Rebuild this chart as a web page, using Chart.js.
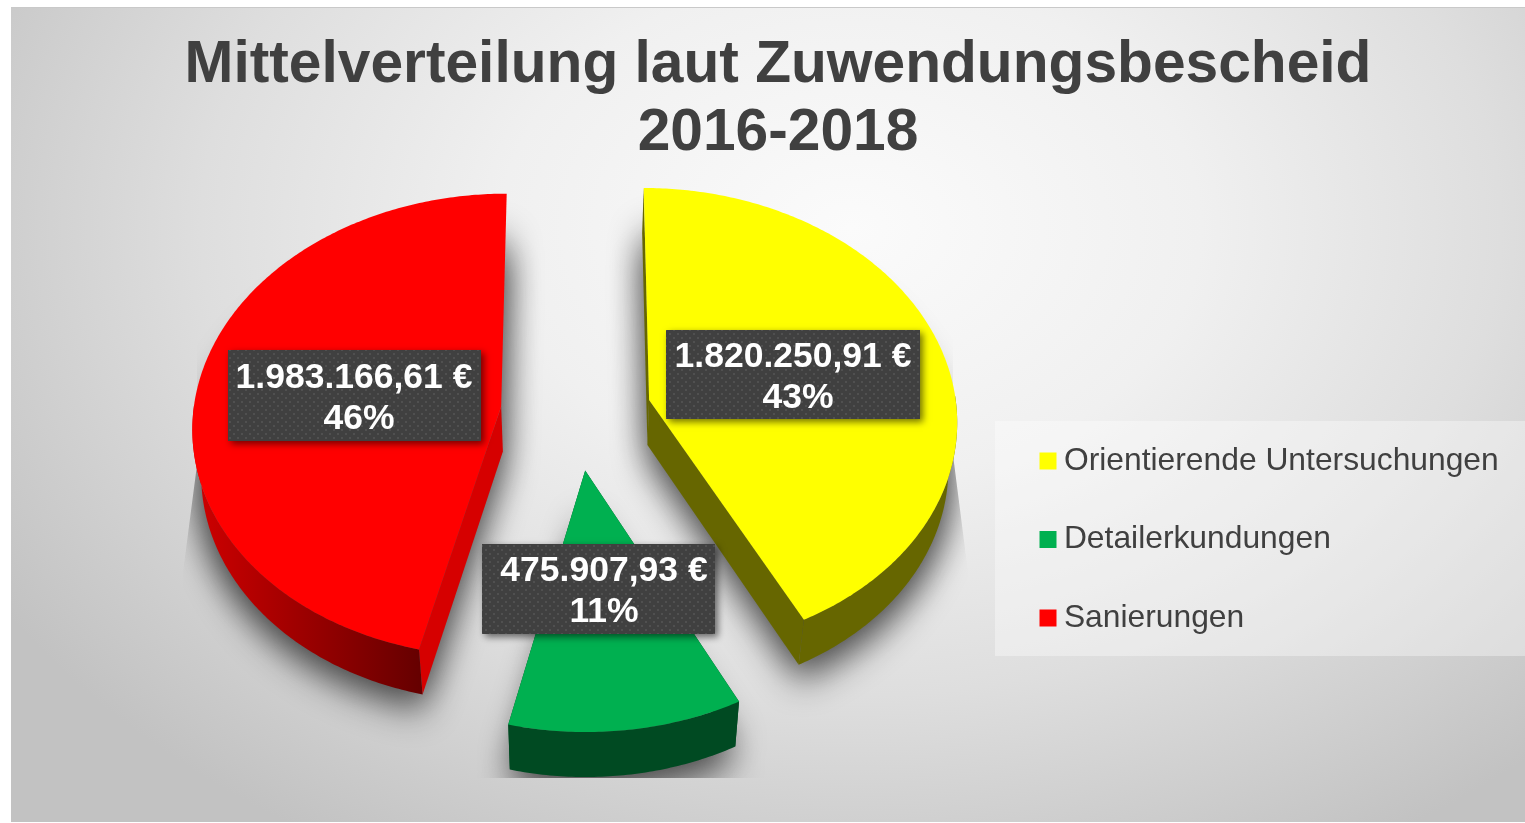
<!DOCTYPE html>
<html><head><meta charset="utf-8">
<style>
html,body{margin:0;padding:0;background:#fff;overflow:hidden}
#panel{position:absolute;left:11px;top:7px;width:1514px;height:815px;border-top:1px solid #c9c9c9;box-sizing:border-box;
background:radial-gradient(ellipse 1000px 720px at 840px 220px,#fbfbfb 0%,#f0f0f0 35%,#dedede 65%,#c2c2c2 100%)}
canvas{position:absolute;left:0;top:0}
</style>
<script src="https://cdn.jsdelivr.net/npm/chart.js@4"></script>
</head><body>
<div id="panel"></div>
<canvas id="c" width="1525" height="823"></canvas>
<script>
const categories = ['Orientierende Untersuchungen', 'Detailerkundungen', 'Sanierungen'];
const amounts = [1820250.91, 475907.93, 1983166.61];
const faceColors = ['#ffff00', '#00b050', '#ff0000'];
const edgeColors = ['#666600', '#004a22', '#d60000'];
const rimStops = [['#666600', '#666600'], ['#004a22', '#004a22'], ['#d00000', '#660000']];
const titleLines = ['Mittelverteilung laut Zuwendungsbescheid', '2016-2018'];

const TILT = 0.75, PERSPECTIVE = 0.08 / 308, DEPTH = 45, NARROW = 0.023;

function ptAt(arc, ang, r, h) {
  const mid = (arc.startAngle + arc.endAngle) / 2, off = arc.options.offset;
  const u = Math.cos(ang) * r + Math.cos(mid) * off;
  const v = Math.sin(ang) * r + Math.sin(mid) * off;
  const w = 1 - PERSPECTIVE * v;
  const x = u / w, y = TILT * v / w;
  return [arc.x + x * (1 - NARROW * h), arc.y + y + DEPTH * h];
}
function rimAngles(arc) {
  const out = [], n = Math.ceil((arc.endAngle - arc.startAngle) * 90);
  for (let i = 0; i <= n; i++) out.push(arc.startAngle + (arc.endAngle - arc.startAngle) * i / n);
  return out;
}
function poly(ctx, pts) {
  ctx.beginPath();
  pts.forEach((p, i) => i ? ctx.lineTo(p[0], p[1]) : ctx.moveTo(p[0], p[1]));
  ctx.closePath();
}
class Pie3DArc extends Chart.ArcElement {
  static id = 'arc3d';
  outline(h) { return [ptAt(this, 0, 0, h), ...rimAngles(this).map(a => ptAt(this, a, this.outerRadius, h))]; }
  drawShadow(ctx) {
    ctx.save();
    ctx.shadowColor = 'rgba(0,0,0,0.48)';
    ctx.shadowBlur = 34;
    ctx.shadowOffsetX = 4000;
    ctx.shadowOffsetY = 20;
    ctx.fillStyle = '#000';
    ctx.translate(-4000, 0);
    for (const h of [0.5, 1]) { poly(ctx, this.outline(h)); ctx.fill(); }
    ctx.restore();
  }
  draw(ctx) {
    const idx = this.$context.index, R = this.outerRadius;
    const apexT = ptAt(this, 0, 0, 0), apexB = ptAt(this, 0, 0, 1);
    const angles = rimAngles(this);
    const leftOfCentre = Math.cos((this.startAngle + this.endAngle) / 2) < 0;
    ctx.save();
    // flat cut faces; the far cut of a slice left of centre faces away
    ctx.fillStyle = edgeColors[idx];
    for (const a of leftOfCentre ? [angles[0]] : [angles[0], angles[angles.length - 1]]) {
      poly(ctx, [apexT, ptAt(this, a, R, 0), ptAt(this, a, R, 1), apexB]); ctx.fill();
    }
    // curved rim: only the part turned to the viewer
    const front = angles.filter(a => Math.sin(a) > -0.02);
    if (front.length > 1) {
      const topEdge = front.map(a => ptAt(this, a, R, 0));
      const botEdge = front.map(a => ptAt(this, a, R, 1)).reverse();
      const xs = topEdge.map(p => p[0]);
      const g = ctx.createLinearGradient(Math.min(...xs), 0, Math.max(...xs), 0);
      g.addColorStop(0, rimStops[idx][0]); g.addColorStop(1, rimStops[idx][1]);
      ctx.fillStyle = g;
      poly(ctx, [...topEdge, ...botEdge]); ctx.fill();
    }
    // top face
    ctx.fillStyle = this.options.backgroundColor;
    poly(ctx, this.outline(0)); ctx.fill();
    ctx.restore();
  }
}
Chart.register(Pie3DArc);
Chart.defaults.datasets.pie.dataElementType = 'arc3d';

function dotPattern(ctx) {
  const c = document.createElement('canvas'); c.width = c.height = 8;
  const p = c.getContext('2d');
  p.fillStyle = '#404040'; p.fillRect(0, 0, 8, 8);
  p.fillStyle = '#505050';
  p.fillRect(1, 1, 2, 2); p.fillRect(5, 5, 2, 2);
  return ctx.createPattern(c, 'repeat');
}
const fmtAmount = v => v.toLocaleString('de-DE', {minimumFractionDigits: 2, maximumFractionDigits: 2}) + ' €';
const labelBoxes = [
  {l: 666, t: 330, r: 920, b: 419, tx: 793, ty: 357, px: 5},
  {l: 482, t: 544, r: 715, b: 634, tx: 604, ty: 571, px: 0},
  {l: 228, t: 350, r: 481, b: 441, tx: 354, ty: 378, px: 5}
];
const pie3d = {
  id: 'pie3d',
  beforeDraw(chart) {
    const ctx = chart.ctx;
    ctx.save();
    ctx.fillStyle = 'rgba(255,255,255,0.36)';
    ctx.fillRect(995, 421, 530, 235);
    ctx.restore();
  },
  afterLayout(chart) {
    const lg = chart.legend, pad = lg.options.labels.padding;
    lg.left = 1048 - pad; lg.right = 1525; lg.top = 445 - pad; lg.bottom = 823;
    chart.titleBlock.left = 31; chart.titleBlock.right = 1525;
  },
  beforeDatasetsDraw(chart) {
    const ctx = chart.ctx;
    ctx.save();
    poly(ctx, [[197,0],[197,465],[183,572],[183,778],[968,778],[968,572],[953,455],[953,0]]);
    ctx.clip();
    chart.getDatasetMeta(0).data.forEach(a => a.drawShadow(ctx));
    ctx.restore();
  },
  afterDatasetsDraw(chart) {
    const ctx = chart.ctx, total = amounts.reduce((a, b) => a + b, 0);
    const pat = dotPattern(ctx);
    amounts.forEach((v, i) => {
      const b = labelBoxes[i];
      ctx.save();
      ctx.shadowColor = 'rgba(0,0,0,0.55)'; ctx.shadowBlur = 7; ctx.shadowOffsetX = 3; ctx.shadowOffsetY = 3;
      ctx.fillStyle = '#404040';
      ctx.fillRect(b.l, b.t, b.r - b.l, b.b - b.t);
      ctx.restore();
      ctx.save();
      ctx.fillStyle = pat;
      ctx.fillRect(b.l, b.t, b.r - b.l, b.b - b.t);
      ctx.fillStyle = '#ffffff';
      ctx.font = 'bold 35.5px "Liberation Sans", Arial, sans-serif';
      ctx.textAlign = 'center'; ctx.textBaseline = 'middle';
      ctx.fillText(fmtAmount(v), b.tx, b.ty);
      ctx.fillText(Math.round(v / total * 100) + '%', b.tx + b.px, b.ty + 41);
      ctx.restore();
    });
  }
};
new Chart(document.getElementById('c'), {
  type: 'pie',
  plugins: [pie3d],
  data: {
    labels: categories,
    datasets: [{
      data: amounts,
      backgroundColor: faceColors,
      borderWidth: 0,
      offset: 75.5,
      radius: 308,
      clip: false
    }]
  },
  options: {
    responsive: false,
    animation: false,
    events: [],
    layout: {padding: {left: 0, right: 373, top: 0, bottom: 165}},
    plugins: {
      tooltip: {enabled: false},
      title: {
        display: true,
        text: titleLines,
        color: '#404040',
        font: {family: '"Liberation Sans", Arial, sans-serif', size: 58.7, weight: 'bold', lineHeight: 1.16},
        padding: {top: 32, bottom: 0}
      },
      legend: {
        position: 'chartArea',
        align: 'start',
        labels: {
          usePointStyle: true,
          pointStyle: 'rect',
          boxWidth: 0.01,
          boxHeight: 17,
          padding: 46.7,
          color: '#404040',
          font: {family: '"Liberation Sans", Arial, sans-serif', size: 31.8}
        }
      }
    }
  }
});
</script>
</body></html>
